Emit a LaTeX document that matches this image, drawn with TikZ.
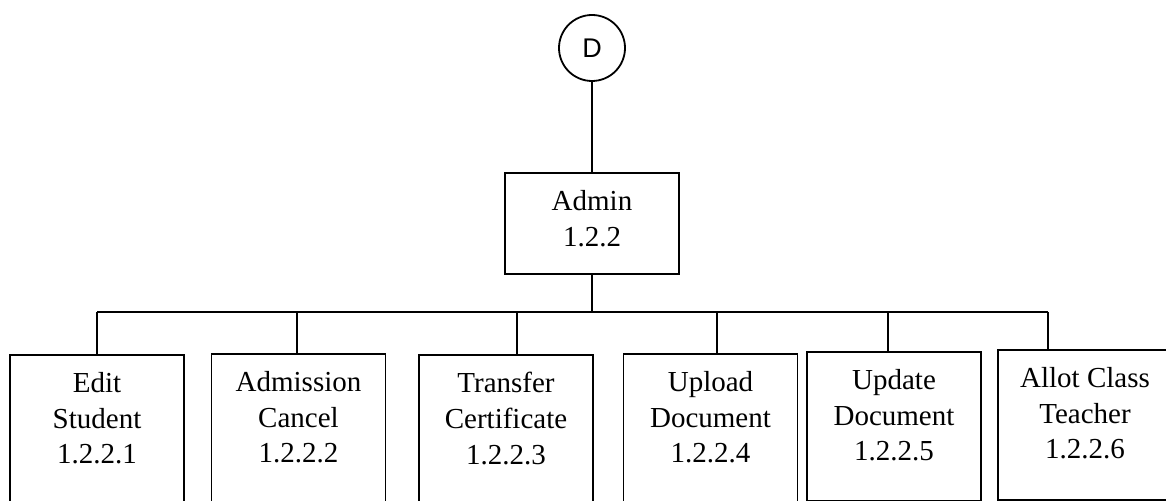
\documentclass[tikz,border=0pt]{standalone}
\usepackage{fontspec}
\setmainfont{Liberation Serif}
\newfontfamily\circfont{Liberation Sans}
\usetikzlibrary{positioning}

\tikzset{
  wire/.style={line width=0.9pt},
  box/.style={draw, line width=0.9pt, anchor=north, minimum width=87pt, inner sep=0pt},
  boxtext/.style={anchor=north, align=center, inner sep=0pt, font=\fontsize{14.5}{17.8}\selectfont},
  conn/.style={draw, circle, line width=0.9pt, minimum size=33pt, inner sep=0pt, font=\circfont\fontsize{13.5}{15}\selectfont},
}

\begin{document}
\begin{tikzpicture}[x=0.5pt, y=-0.5pt]
  \clip (0,0) rectangle (1166,501);

  % connector and parent process
  \node[conn] (d) at (592,48) {D};
  \node[box, minimum height=50.5pt] (admin) at (592,172) {};
  \node[boxtext, below=9pt of admin.north] (admintxt) {Admin\\1.2.2};
  \draw[wire] (d) -- (admin.north);

  % child processes
  \node[box, minimum height=80pt] (k1) at (97,354) {};
  \node[box, minimum height=80pt] (k2) at (298.5,353) {};
  \node[box, minimum height=80pt] (k3) at (506,354) {};
  \node[box, minimum height=80pt] (k4) at (710.5,353) {};
  \node[box, minimum height=74.5pt] (k5) at (894,351) {};
  \node[box, minimum height=75pt] (k6) at (1085,349) {};

  \node[boxtext, below=9pt of k1.north] (k1txt) {Edit\\Student\\1.2.2.1};
  \node[boxtext, below=9pt of k2.north] (k2txt) {Admission\\Cancel\\1.2.2.2};
  \node[boxtext, below=9pt of k3.north] (k3txt) {Transfer\\Certificate\\1.2.2.3};
  \node[boxtext, below=9pt of k4.north] (k4txt) {Upload\\Document\\1.2.2.4};
  \node[boxtext, below=9pt of k5.north] (k5txt) {Update\\Document\\1.2.2.5};
  \node[boxtext, below=9pt of k6.north] (k6txt) {Allot Class\\Teacher\\1.2.2.6};

  % bus with taps
  \coordinate (bus) at (592,312);
  \coordinate (t1) at (97,312);
  \coordinate (t2) at (297,312);
  \coordinate (t3) at (517,312);
  \coordinate (t4) at (717,312);
  \coordinate (t5) at (888,312);
  \coordinate (t6) at (1048,312);
  \draw[wire] (admin.south) -- (bus);
  \draw[wire] (t1) -- (t6);
  \draw[wire] (t1) -- (t1 |- k1.north);
  \draw[wire] (t2) -- (t2 |- k2.north);
  \draw[wire] (t3) -- (t3 |- k3.north);
  \draw[wire] (t4) -- (t4 |- k4.north);
  \draw[wire] (t5) -- (t5 |- k5.north);
  \draw[wire] (t6) -- (t6 |- k6.north);
\end{tikzpicture}
\end{document}
